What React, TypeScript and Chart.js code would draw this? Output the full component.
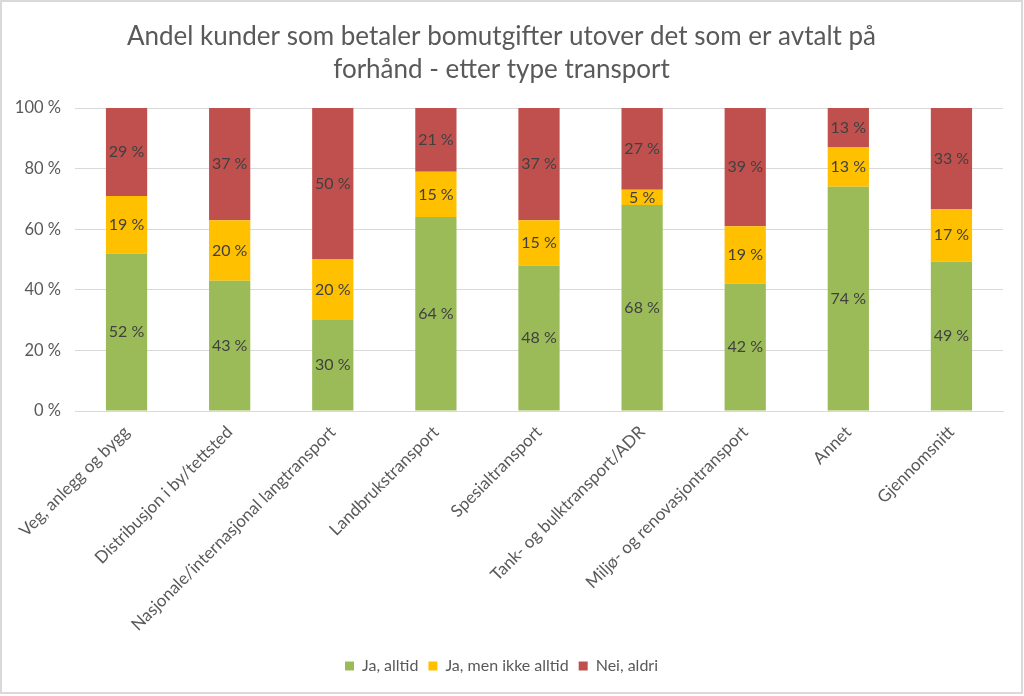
import React, { useEffect, useRef } from "react";
import { Chart, registerables } from "chart.js";

Chart.register(...registerables);

const categories = [
  "Veg, anlegg og bygg",
  "Distribusjon i by/tettsted",
  "Nasjonale/internasjonal langtransport",
  "Landbrukstransport",
  "Spesialtransport",
  "Tank- og bulktransport/ADR",
  "Miljø- og renovasjontransport",
  "Annet",
  "Gjennomsnitt",
];
const jaAlltid = [52, 43, 30, 64, 48, 68, 42, 74, 49.3];
const jaMenIkke = [19, 20, 20, 15, 15, 5, 19, 13, 17.4];
const neiAldri = [29, 37, 50, 21, 37, 27, 39, 13, 33.3];
const seriesNames = ["Ja, alltid", "Ja, men ikke alltid", "Nei, aldri"];
const titleLines = [
  "Andel kunder som betaler bomutgifter utover det som er avtalt på",
  "forhånd - etter type transport",
];
const yTicks = [0, 20, 40, 60, 80, 100];

const FONT = "Lato, 'Open Sans', sans-serif";
const TEXT = "#595959";

const dataLabels = {
  id: "dataLabels",
  afterDatasetsDraw(chart: any) {
    const ctx = chart.ctx;
    ctx.save();
    ctx.font = `16px ${FONT}`;
    ctx.fillStyle = "#404040";
    ctx.textAlign = "center";
    ctx.textBaseline = "middle";
    chart.data.datasets.forEach((ds: any, di: number) => {
      const meta = chart.getDatasetMeta(di);
      meta.data.forEach((el: any, i: number) => {
        const v = ds.data[i];
        const y = (el.y + el.base) / 2;
        ctx.fillText(`${Math.round(v)} %`, el.x, y);
      });
    });
    ctx.restore();
  },
};

const frame = {
  id: "frame",
  afterDraw(chart: any) {
    const ctx = chart.ctx;
    ctx.save();
    ctx.strokeStyle = "#D9D9D9";
    ctx.lineWidth = 2;
    ctx.strokeRect(1, 1, chart.width - 3, chart.height - 4);
    ctx.restore();
  },
};

export default function App() {
  const ref = useRef<HTMLCanvasElement | null>(null);
  useEffect(() => {
    if (!ref.current) return;
    const chart = new Chart(ref.current, {
      type: "bar",
      data: {
        labels: categories,
        datasets: [
          { label: seriesNames[0], data: jaAlltid, backgroundColor: "#9BBB59" },
          { label: seriesNames[1], data: jaMenIkke, backgroundColor: "#FFC000" },
          { label: seriesNames[2], data: neiAldri, backgroundColor: "#C0504D" },
        ],
      },
      options: {
        animation: false,
        responsive: false,
        maintainAspectRatio: false,
        layout: { padding: { top: 0, left: 0, right: 21, bottom: 12 } },
        datasets: { bar: { barPercentage: 0.4, categoryPercentage: 1 } },
        plugins: {
          title: {
            display: true,
            text: titleLines,
            color: TEXT,
            font: { family: FONT, size: 26, weight: "normal", lineHeight: 1.27 },
            padding: { top: 20, bottom: 22 },
          },
          legend: {
            position: "bottom",
            labels: {
              color: TEXT,
              font: { family: FONT, size: 16 },
              boxWidth: 9,
              boxHeight: 9,
              padding: 10,
            },
          },
          tooltip: { enabled: false },
        },
        scales: {
          x: {
            stacked: true,
            grid: { display: false },
            border: { display: true, color: "#D9D9D9" },
            ticks: {
              color: TEXT,
              font: { family: FONT, size: 17 },
              maxRotation: 45,
              minRotation: 45,
              autoSkip: false,
            },
            afterFit: (s: any) => {
              s.height = 237;
            },
          },
          y: {
            stacked: true,
            min: 0,
            max: 100,
            border: { display: false },
            grid: { color: "#D9D9D9", drawTicks: false },
            afterBuildTicks: (s: any) => {
              s.ticks = yTicks.map((v) => ({ value: v }));
            },
            ticks: {
              color: TEXT,
              font: { family: FONT, size: 16.5 },
              padding: 14,
              callback: (v: any) => `${v} %`,
            },
            afterFit: (s: any) => {
              s.width = 75;
            },
          },
        },
      },
      plugins: [dataLabels, frame],
    });
    return () => chart.destroy();
  }, []);
  return (
    <div style={{ position: "fixed", left: 0, top: 0, width: 1024, height: 696, background: "#fff" }}>
      <canvas ref={ref} width={1024} height={696} style={{ width: 1024, height: 696, display: "block" }} />
    </div>
  );
}
